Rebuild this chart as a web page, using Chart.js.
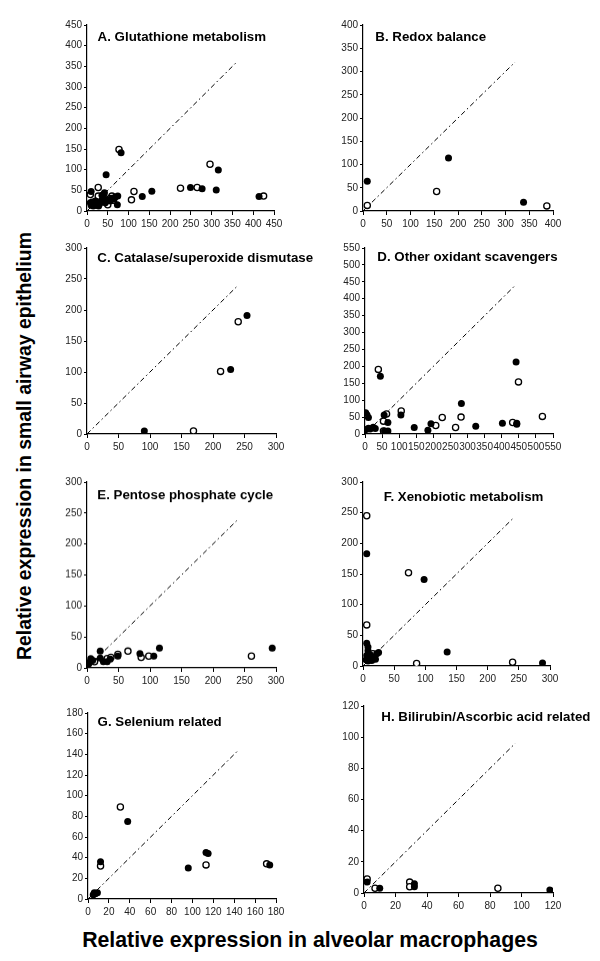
<!DOCTYPE html>
<html>
<head>
<meta charset="utf-8">
<script src="https://cdn.jsdelivr.net/npm/chart.js@4.4.1/dist/chart.umd.min.js"></script>
<style>
  body { margin: 0; background: #fff; }
  #wrap { position: relative; width: 600px; height: 961px; overflow: hidden; font-family: "Liberation Sans", Arial, sans-serif; }
  canvas { position: absolute; }
  .ytitle { position: absolute; left: 25px; top: 446px; width: 520px; margin-left: -260px; line-height: 1; font-size: 19.4px; font-weight: bold; text-align: center; transform: translateY(-50%) rotate(-90deg); white-space: nowrap; }
  .xtitle { position: absolute; left: 100px; top: 929.5px; width: 510px; line-height: 1; font-size: 21.3px; font-weight: bold; text-align: center; white-space: nowrap; margin-left: -45px; }
</style>
</head>
<body>
<div id="wrap">
  <div class="ytitle">Relative expression in small airway epithelium</div>
  <div class="xtitle">Relative expression in alveolar macrophages</div>
</div>
<script>
// Panel data
const panelTitles = [
    "A. Glutathione metabolism",
    "B. Redox balance",
    "C. Catalase/superoxide dismutase",
    "D. Other oxidant scavengers",
    "E. Pentose phosphate cycle",
    "F. Xenobiotic metabolism",
    "G. Selenium related",
    "H. Bilirubin/Ascorbic acid related"
];
const axisMax = [450, 400, 300, 550, 300, 300, 180, 120];
const tickStep = [50, 50, 50, 50, 50, 50, 20, 20];
const lineEnd = [360, 320, 240, 440, 240, 240, 144, 96];

const aFilled = [[82,141],[46,88],[316,99],[249,57],[277,54],[311,51],[414,35],[156,48],[133,35],[10,47],[42,44],[74,36],[68,34],[73,15],
    [8,20],[10,14],[12,22],[15,12],[18,18],[20,24],[22,14],[25,19],[28,12],[30,17],[34,22],[38,27],[40,31],[44,20],[52,27],[56,24],[60,31],[64,29],[40,40],[36,38]];
const aOpen = [[77,149],[296,113],[225,55],[265,57],[425,36],[113,47],[107,27],[27,57],[8,40],[27,36],[50,15],[60,36],[55,30],[64,26]];

const bFilled = [[9,64],[180,114],[338,19]];
const bOpen = [[9,12],[155,42],[387,11]];

const cFilled = [[91,5],[228,104],[254,191]];
const cOpen = [[169,5],[212,101],[240,181]];

const dFilled = [[45,171],[442,213],[282,90],[105,56],[56,56],[67,34],[2,63],[10,49],[10,17],[24,20],[15,15],[30,16],[3,13],[57,9],[67,9],
    [144,19],[184,11],[193,30],[324,23],[402,32],[444,32],[444,29]];
const dOpen = [[39,191],[449,154],[106,68],[63,59],[54,38],[5,56],[54,9],[207,25],[226,49],[265,19],[281,50],[432,34],[519,52]];

const eFilled = [[21,27],[6,15],[3,7],[5,10],[9,12],[0,3],[21,16],[26,10],[32,10],[37,14],[49,19],[84,23],[106,19],[115,32],[294,32]];
const eOpen = [[32,15],[38,17],[49,22],[65,27],[86,17],[98,19],[261,19],[12,10]];

const fFilled = [[6,183],[98,141],[135,23],[288,5],[6,37],[8,31],[8,25],[6,17],[11,12],[14,9],[18,14],[20,11],[22,20],[25,22],[12,18],[8,8],[5,10]];
const fOpen = [[6,245],[6,67],[73,152],[86,4],[240,6],[16,20]];

const gFilled = [[38,75],[12,36],[7,5],[9,6],[5,4],[6,6],[96,30],[113,45],[115,44],[174,33]];
const gOpen = [[31,89],[12,32],[113,33],[171,34]];

const hFilled = [[2,7],[10,3],[32,6],[32,4],[118,2]];
const hOpen = [[2,9],[7,3],[29,7],[29,4],[85,3]];

const filledSets = [aFilled, bFilled, cFilled, dFilled, eFilled, fFilled, gFilled, hFilled];
const openSets = [aOpen, bOpen, cOpen, dOpen, eOpen, fOpen, gOpen, hOpen];

// Layout: plot area left, right, top, bottom (page px) and title offsets
const plotBox = [
    [86.7, 274, 25, 211], [362.7, 553, 25, 211],
    [87, 276, 247.7, 434], [365, 553, 247.7, 434],
    [87, 276, 482, 667.7], [362.5, 550, 481.7, 665.7],
    [87.7, 275.7, 712.7, 899], [363.7, 553, 706, 893]
];
const titleOffset = [[10.6,12.3],[12.3,12.3],[10.3,10.6],[12.3,9],[10.3,13.7],[20.8,15.6],[9.6,9],[17.3,11.3]];

const FONT = '"Liberation Sans", Arial, sans-serif';
const Y_W = 45, X_H = 22, PAD_T = 10, PAD_R = 40;

const panelTitlePlugin = {
    id: 'panelTitle',
    afterDraw(chart, args, opts) {
        const ctx = chart.ctx;
        ctx.save();
        ctx.font = 'bold 13.3px ' + FONT;
        ctx.fillStyle = '#000';
        ctx.textBaseline = 'middle';
        ctx.textAlign = 'left';
        ctx.fillText(opts.text, chart.chartArea.left + opts.dx, chart.chartArea.top + opts.dy);
        ctx.restore();
    }
};

function toPoints(arr) { return arr.map(p => ({ x: p[0], y: p[1] })); }

function axisOpts(max, step, isY) {
    return {
        type: 'linear',
        min: 0,
        max: max,
        grid: { display: true, drawOnChartArea: false, drawTicks: true, tickLength: isY ? 3 : 4, color: '#000', lineWidth: 1 },
        border: { display: true, color: '#000', width: 1.2 },
        ticks: {
            stepSize: step,
            autoSkip: false,
            maxRotation: 0,
            color: '#222',
            padding: isY ? 2 : 3,
            font: { family: FONT, size: 10 }
        },
        afterFit: s => { if (isY) s.width = Y_W; else s.height = X_H; }
    };
}

const wrap = document.getElementById('wrap');

for (let i = 0; i < 8; i++) {
    const [L, R, T, B] = plotBox[i];
    const c = document.createElement('canvas');
    const w = Y_W + (R - L) + PAD_R;
    const h = PAD_T + (B - T) + X_H;
    c.width = w; c.height = h;
    c.style.left = (L - Y_W) + 'px';
    c.style.top = (T - PAD_T) + 'px';
    c.style.width = w + 'px';
    c.style.height = h + 'px';
    wrap.appendChild(c);

    new Chart(c, {
        type: 'scatter',
        data: {
            datasets: [
                { data: toPoints(filledSets[i]), backgroundColor: '#000', borderColor: '#000', pointRadius: 3.5, borderWidth: 0 },
                { data: toPoints(openSets[i]), backgroundColor: '#fff', borderColor: '#000', pointRadius: 3.1, borderWidth: 1.3 },
                { data: [{ x: 0, y: 0 }, { x: lineEnd[i], y: lineEnd[i] }], showLine: true, pointRadius: 0,
                  borderColor: '#000', borderWidth: 1, borderDash: [5, 3, 1.5, 3] }
            ]
        },
        options: {
            responsive: false,
            animation: false,
            layout: { padding: { left: 0, top: PAD_T, right: PAD_R, bottom: 0 } },
            scales: {
                x: axisOpts(axisMax[i], tickStep[i], false),
                y: axisOpts(axisMax[i], tickStep[i], true)
            },
            plugins: {
                legend: { display: false },
                tooltip: { enabled: false },
                panelTitle: { text: panelTitles[i], dx: titleOffset[i][0], dy: titleOffset[i][1] }
            }
        },
        plugins: [panelTitlePlugin]
    });
}
</script>
</body>
</html>
